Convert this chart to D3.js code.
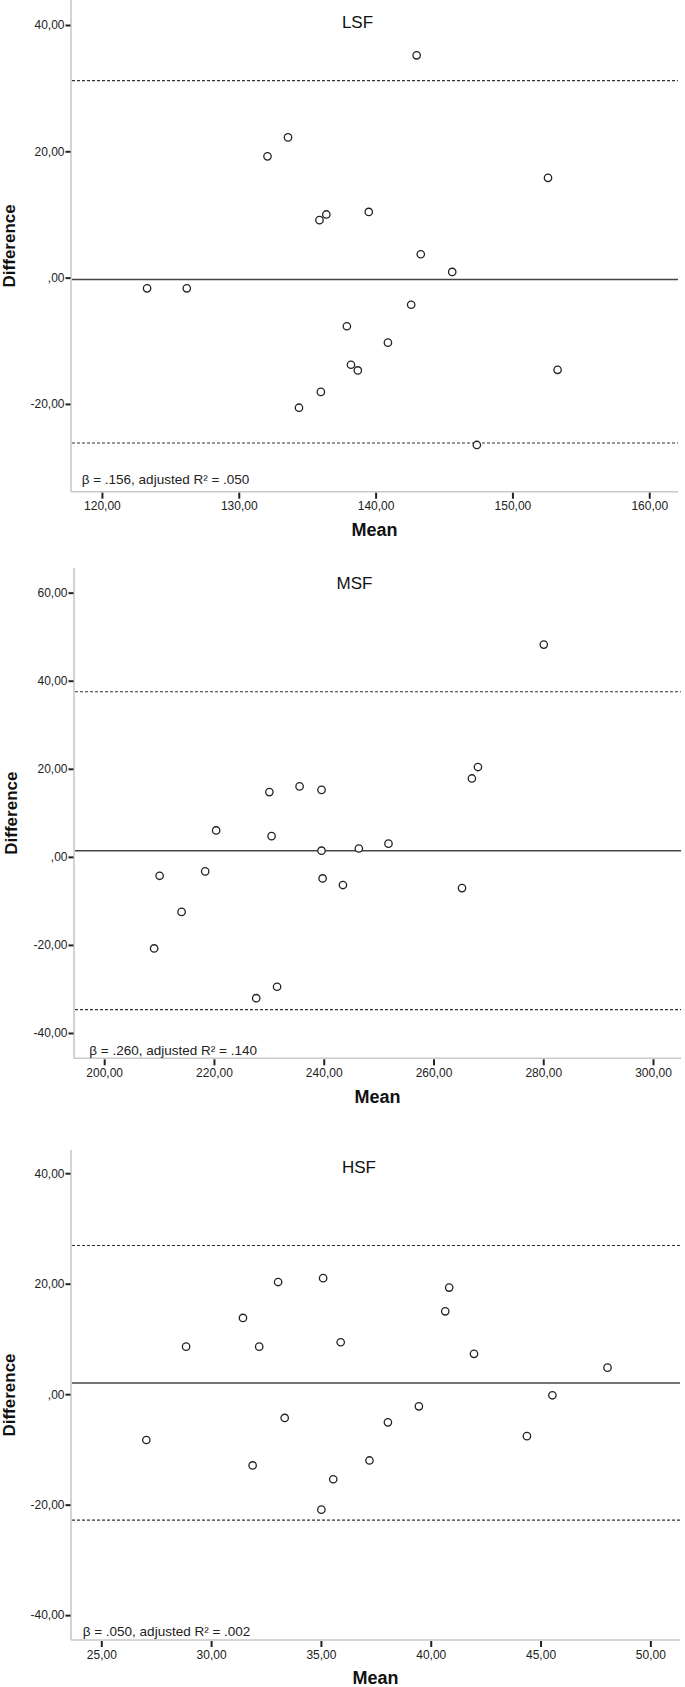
<!DOCTYPE html>
<html>
<head>
<meta charset="utf-8">
<script src="https://cdn.jsdelivr.net/npm/d3@7/dist/d3.min.js"></script>
<style>
  body { margin: 0; background: #fff; }
  svg { display: block; font-family: "Liberation Sans", Arial, sans-serif; }
</style>
</head>
<body>
<svg id="chart" width="685" height="1687"></svg>
<script>
// ---------- DATA ----------
const panelNames = ["LSF", "MSF", "HSF"];
const annotations = [
  "β = .156, adjusted R² = .050",
  "β = .260, adjusted R² = .140",
  "β = .050, adjusted R² = .002"
];

const lsfMean = [123.3, 126.2, 132.1, 133.6, 135.9, 136.4, 139.5, 143.0, 143.3, 145.6, 152.6, 142.6, 137.9, 140.9, 138.2, 138.7, 136.0, 134.4, 153.3, 147.4];
const lsfDiff = [-1.7, -1.7, 19.2, 22.2, 9.1, 10.0, 10.4, 35.2, 3.7, 0.9, 15.8, -4.3, -7.7, -10.3, -13.8, -14.7, -18.1, -20.6, -14.6, -26.5];
const lsfLines = [-0.3, 31.2, -26.2];   // mean difference, upper LoA, lower LoA

const msfMean = [280.1, 268.1, 267.0, 265.2, 251.8, 246.4, 243.5, 239.8, 239.6, 239.6, 235.6, 230.1, 230.5, 220.4, 218.4, 210.1, 214.1, 209.1, 227.7, 231.5];
const msfDiff = [48.2, 20.4, 17.8, -7.1, 3.0, 1.9, -6.4, -4.9, 1.4, 15.2, 16.0, 14.7, 4.7, 6.0, -3.3, -4.3, -12.5, -20.8, -32.1, -29.5];
const msfLines = [1.4, 37.5, -34.7];

const hsfMean = [27.05, 28.86, 31.45, 32.19, 31.89, 33.05, 33.35, 35.1, 35.02, 35.56, 35.9, 37.21, 38.05, 39.46, 40.66, 40.84, 41.97, 44.38, 45.54, 48.05];
const hsfDiff = [-8.3, 8.6, 13.8, 8.6, -12.9, 20.3, -4.3, 21.0, -20.9, -15.4, 9.4, -12.0, -5.1, -2.2, 15.0, 19.3, 7.3, -7.6, -0.2, 4.8];
const hsfLines = [2.0, 26.9, -22.8];

const lsfXTicks = [120, 130, 140, 150, 160];
const lsfYTicks = [-20, 0, 20, 40];
const msfXTicks = [200, 220, 240, 260, 280, 300];
const msfYTicks = [-40, -20, 0, 20, 40, 60];
const hsfXTicks = [25, 30, 35, 40, 45, 50];
const hsfYTicks = [-40, -20, 0, 20, 40];

const lsfXDomain = [117.74, 162.1];
const lsfYDomain = [-33.9, 43.96];
const msfXDomain = [194.5, 305.1];
const msfYDomain = [-45.75, 65.6];
const hsfXDomain = [23.62, 51.35];
const hsfYDomain = [-44.5, 44.2];

const xLabel = "Mean";
const yLabel = "Difference";

// ---------- LAYOUT ----------
const panels = [
  { name: panelNames[0], note: annotations[0], xs: lsfMean, ys: lsfDiff, lines: lsfLines,
    xTicks: lsfXTicks, yTicks: lsfYTicks, xDom: lsfXDomain, yDom: lsfYDomain,
    left: 71, right: 678, top: 0, bottom: 491.7, titleX: 357.5, titleY: 21.7,
    noteX: 81.7, noteY: 484, meanY: 530, diffX: 9 },
  { name: panelNames[1], note: annotations[1], xs: msfMean, ys: msfDiff, lines: msfLines,
    xTicks: msfXTicks, yTicks: msfYTicks, xDom: msfXDomain, yDom: msfYDomain,
    left: 74, right: 681, top: 568, bottom: 1058.3, titleX: 354.5, titleY: 583,
    noteX: 89.3, noteY: 1055, meanY: 1096.7, diffX: 11 },
  { name: panelNames[2], note: annotations[2], xs: hsfMean, ys: hsfDiff, lines: hsfLines,
    xTicks: hsfXTicks, yTicks: hsfYTicks, xDom: hsfXDomain, yDom: hsfYDomain,
    left: 71, right: 680, top: 1150, bottom: 1640, titleX: 359, titleY: 1166.7,
    noteX: 82.7, noteY: 1635.5, meanY: 1678, diffX: 9 }
];

const fmt = v => v === 0 ? ",00" : v.toFixed(2).replace(".", ",");
const svg = d3.select("#chart");

panels.forEach(p => {
  const g = svg.append("g");
  const x = d3.scaleLinear().domain(p.xDom).range([p.left, p.right]);
  const y = d3.scaleLinear().domain(p.yDom).range([p.bottom, p.top]);

  // axis lines (light gray)
  g.append("line").attr("x1", p.left).attr("x2", p.left).attr("y1", p.top).attr("y2", p.bottom)
    .attr("stroke", "#c9c9c9").attr("stroke-width", 1.6);
  g.append("line").attr("x1", p.left).attr("x2", p.right).attr("y1", p.bottom).attr("y2", p.bottom)
    .attr("stroke", "#c9c9c9").attr("stroke-width", 1.6);

  // y axis ticks
  const yAxis = g.append("g").attr("transform", `translate(${p.left - 0.5},0)`)
    .call(d3.axisLeft(y).tickValues(p.yTicks).tickFormat(fmt).tickSize(5).tickPadding(1));
  yAxis.select(".domain").remove();
  yAxis.selectAll(".tick line").attr("stroke", "#222").attr("stroke-width", 2);
  yAxis.selectAll(".tick text").attr("fill", "#222").style("font-size", "12px")
    .style("font-family", "'Liberation Sans', Arial, sans-serif");

  // x axis ticks
  const xAxis = g.append("g").attr("transform", `translate(0,${p.bottom + 1})`)
    .call(d3.axisBottom(x).tickValues(p.xTicks).tickFormat(fmt).tickSize(6).tickPadding(3));
  xAxis.select(".domain").remove();
  xAxis.selectAll(".tick line").attr("stroke", "#222").attr("stroke-width", 2);
  xAxis.selectAll(".tick text").attr("fill", "#222").style("font-size", "12px")
    .style("font-family", "'Liberation Sans', Arial, sans-serif");

  // reference lines
  g.append("line").attr("x1", p.left + 1).attr("x2", p.right)
    .attr("y1", y(p.lines[0])).attr("y2", y(p.lines[0]))
    .attr("stroke", "#444").attr("stroke-width", 1.5);
  [p.lines[1], p.lines[2]].forEach(v => {
    g.append("line").attr("x1", p.left + 1).attr("x2", p.right)
      .attr("y1", y(v)).attr("y2", y(v))
      .attr("stroke", "#333").attr("stroke-width", 1.1).attr("stroke-dasharray", "3,2");
  });

  // points
  g.selectAll("circle.pt").data(d3.range(p.xs.length)).join("circle")
    .attr("class", "pt")
    .attr("cx", i => x(p.xs[i])).attr("cy", i => y(p.ys[i])).attr("r", 3.7)
    .attr("fill", "#fff").attr("stroke", "#222").attr("stroke-width", 1.3);

  // title
  g.append("text").attr("x", p.titleX).attr("y", p.titleY).attr("dy", "0.35em")
    .attr("text-anchor", "middle").style("font-size", "17px").attr("fill", "#111").text(p.name);

  // annotation
  g.append("text").attr("x", p.noteX).attr("y", p.noteY)
    .style("font-size", "13.5px").attr("fill", "#222").text(p.note);

  // axis titles
  g.append("text").attr("x", (p.left + p.right) / 2).attr("y", p.meanY).attr("dy", "0.35em")
    .attr("text-anchor", "middle").style("font-size", "18px").style("font-weight", "bold")
    .attr("fill", "#111").text(xLabel);
  g.append("text").attr("transform", `translate(${p.diffX},${(p.top + p.bottom) / 2}) rotate(-90)`)
    .attr("dy", "0.35em").attr("text-anchor", "middle")
    .style("font-size", "17px").style("font-weight", "bold").attr("fill", "#111").text(yLabel);
});
</script>
</body>
</html>
